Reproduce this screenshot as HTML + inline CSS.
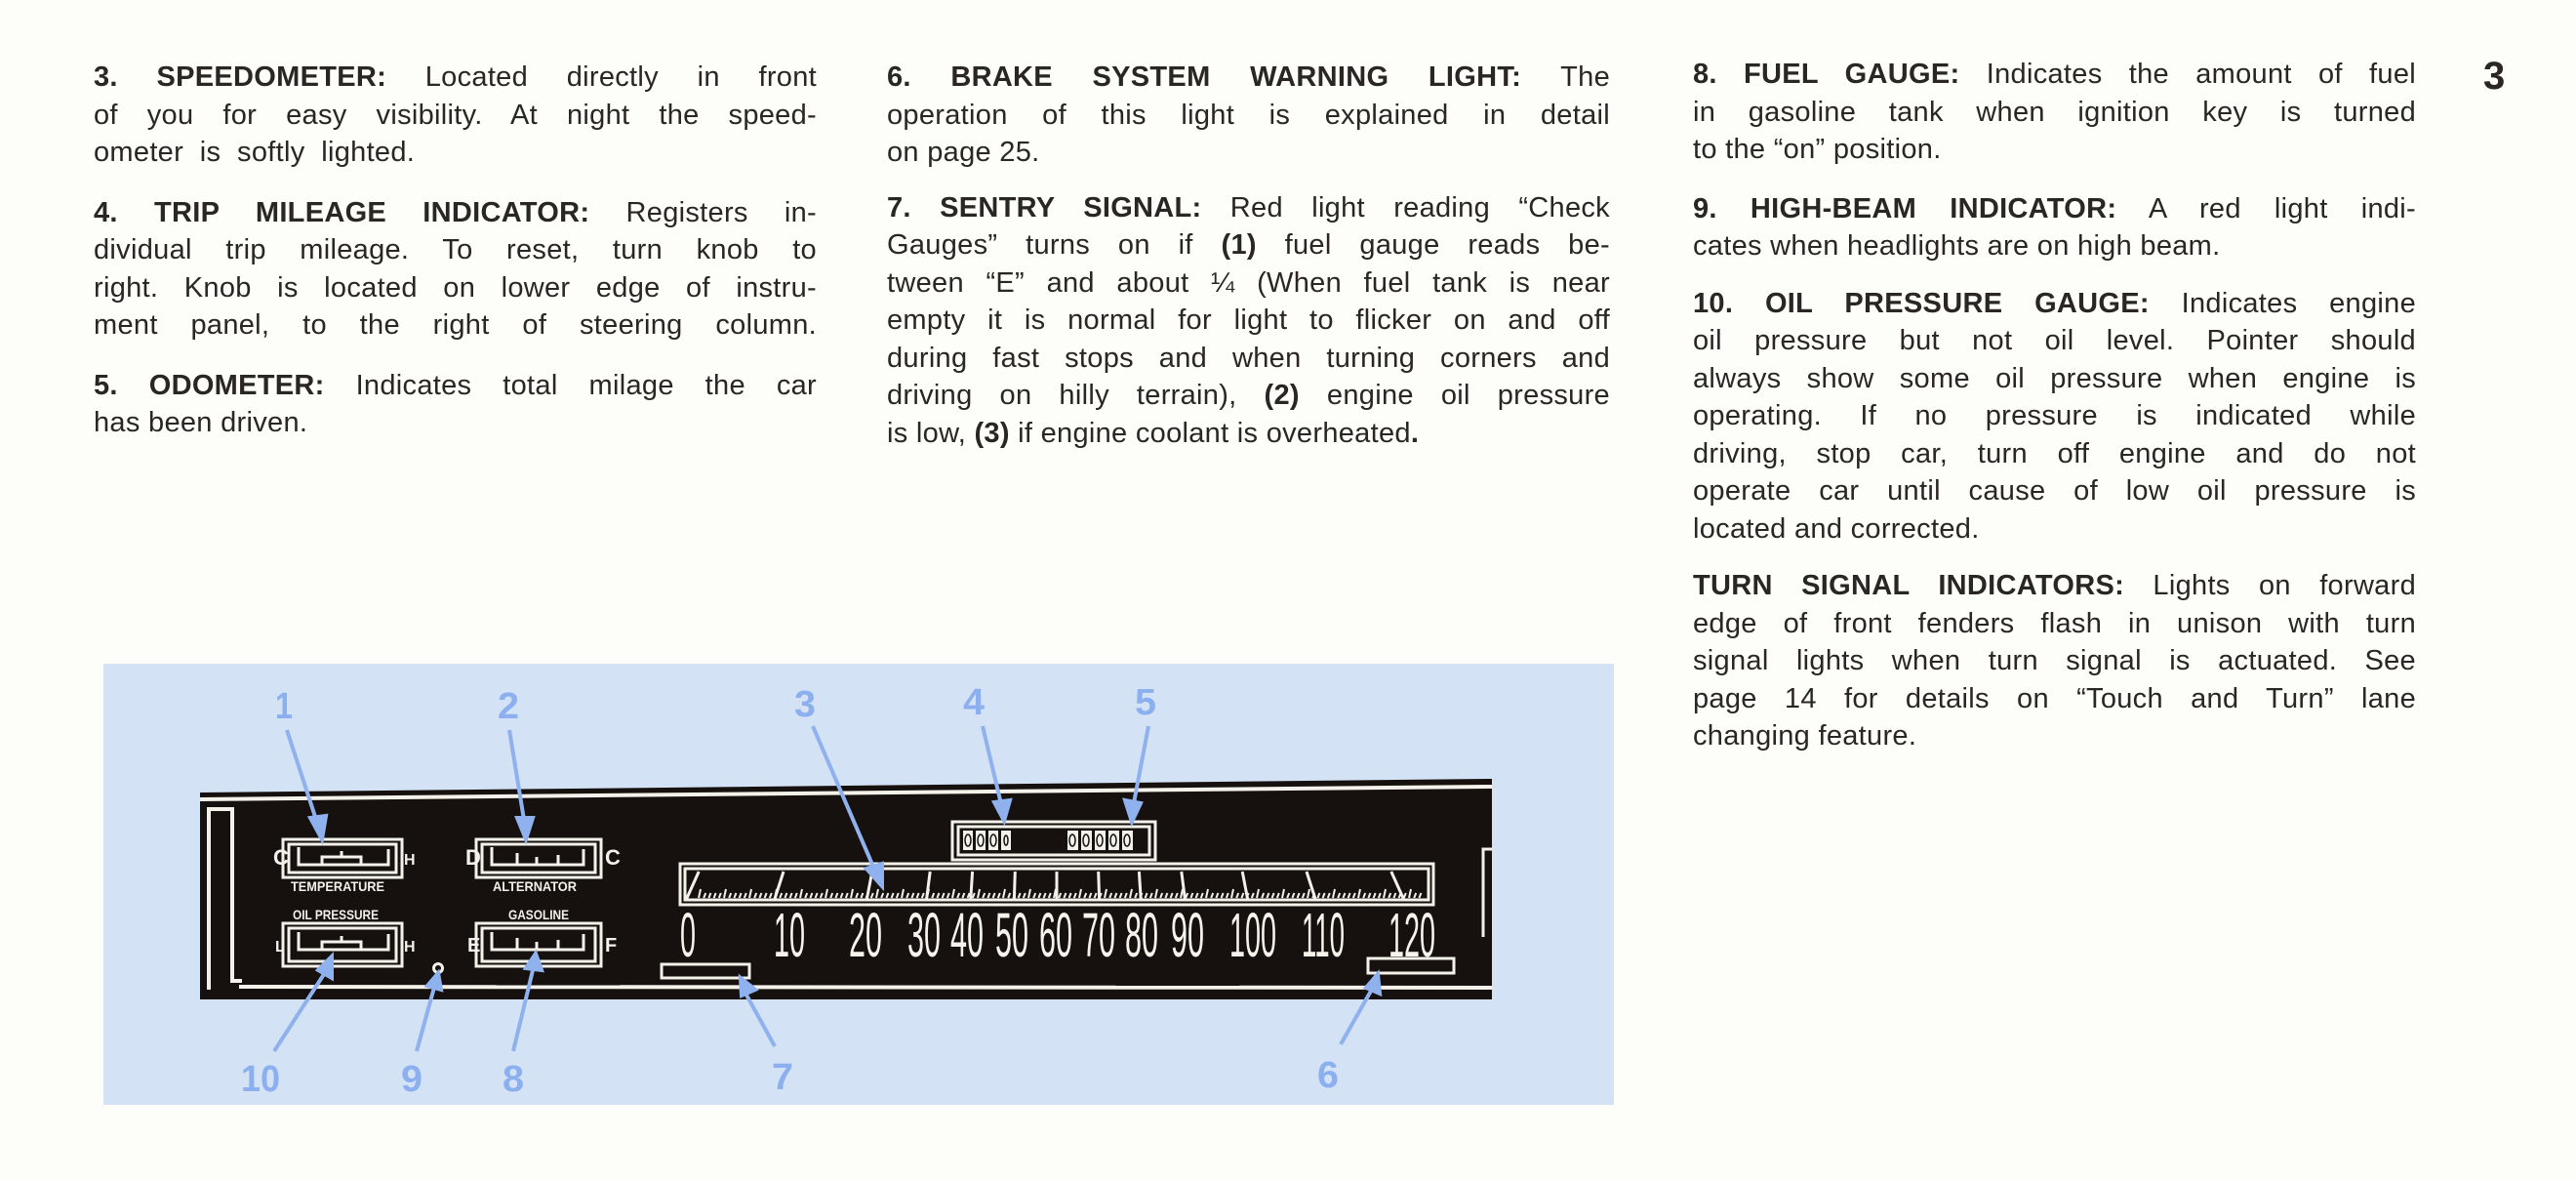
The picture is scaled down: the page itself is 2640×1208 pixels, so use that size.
<!DOCTYPE html>
<html><head><meta charset="utf-8">
<style>
html,body{margin:0;padding:0;background:#fdfdf9;}
body{width:2640px;height:1208px;position:relative;overflow:hidden;font-family:"Liberation Sans",sans-serif;color:#2a2622;}
.col{position:absolute;font-size:29px;line-height:38.5px;letter-spacing:0.3px;}
.col div{text-align:justify;text-align-last:justify;white-space:nowrap;}
.col div.l{text-align-last:left;}
.gap{height:23px;}
b{font-weight:bold;}
</style></head><body>
<div class="col" style="left:96px;top:60px;width:741px;">
<div><b>3. SPEEDOMETER:</b> Located directly in front</div>
<div>of you for easy visibility. At night the speed-</div>
<div class="l">ometer&nbsp; is&nbsp; softly&nbsp; lighted.</div>
<div class="gap"></div>
<div><b>4. TRIP MILEAGE INDICATOR:</b> Registers in-</div>
<div>dividual trip mileage. To reset, turn knob to</div>
<div>right. Knob is located on lower edge of instru-</div>
<div>ment panel, to the right of steering column.</div>
<div class="gap"></div>
<div><b>5. ODOMETER:</b> Indicates total milage the car</div>
<div class="l">has been driven.</div>
</div>
<div class="col" style="left:909px;top:60px;width:741px;">
<div><b>6. BRAKE SYSTEM WARNING LIGHT:</b> The</div>
<div>operation of this light is explained in detail</div>
<div class="l">on page 25.</div>
<div class="gap" style="height:18px"></div>
<div><b>7. SENTRY SIGNAL:</b> Red light reading “Check</div>
<div>Gauges” turns on if <b>(1)</b> fuel gauge reads be-</div>
<div>tween “E” and about ¼ (When fuel tank is near</div>
<div>empty it is normal for light to flicker on and off</div>
<div>during fast stops and when turning corners and</div>
<div>driving on hilly terrain), <b>(2)</b> engine oil pressure</div>
<div class="l">is low, <b>(3)</b> if engine coolant is overheated<b>.</b></div>
</div>
<div class="col" style="left:1735px;top:57px;width:741px;">
<div><b>8. FUEL GAUGE:</b> Indicates the amount of fuel</div>
<div>in gasoline tank when ignition key is turned</div>
<div class="l">to the “on” position.</div>
<div class="gap" style="height:22px"></div>
<div><b>9. HIGH-BEAM INDICATOR:</b> A red light indi-</div>
<div class="l">cates when headlights are on high beam.</div>
<div class="gap" style="height:20px"></div>
<div><b>10. OIL PRESSURE GAUGE:</b> Indicates engine</div>
<div>oil pressure but not oil level. Pointer should</div>
<div>always show some oil pressure when engine is</div>
<div>operating. If no pressure is indicated while</div>
<div>driving, stop car, turn off engine and do not</div>
<div>operate car until cause of low oil pressure is</div>
<div class="l">located and corrected.</div>
<div class="gap" style="height:20px"></div>
<div><b>TURN SIGNAL INDICATORS:</b> Lights on forward</div>
<div>edge of front fenders flash in unison with turn</div>
<div>signal lights when turn signal is actuated. See</div>
<div>page 14 for details on “Touch and Turn” lane</div>
<div class="l">changing feature.</div>
</div>
<div style="position:absolute;left:2545px;top:56px;font-size:40px;font-weight:bold;">3</div>

<svg style="position:absolute;left:0;top:0" width="2640" height="1208" xmlns="http://www.w3.org/2000/svg" font-family="Liberation Sans, sans-serif">
<rect x="106" y="680" width="1548" height="452" fill="#d3e2f4"/>
<polygon points="205,812 1529,798 1529,1024 205,1024" fill="#16110f"/>
<polyline points="205,819 1529,806" stroke="#f4f1ea" stroke-width="4" fill="none"/>
<polyline points="245,1011 1529,1012" stroke="#f4f1ea" stroke-width="4" fill="none"/>
<polyline points="214,1014 214,829 238,829 238,1005 248,1005" stroke="#f4f1ea" stroke-width="4" fill="none"/>
<path d="M1529,870 L1520,870 L1520,960" stroke="#f4f1ea" stroke-width="3" fill="none"/>
<g stroke="#f4f1ea" fill="none" stroke-width="3">
<rect x="290" y="860" width="122" height="39"/><rect x="296" y="865" width="110" height="29"/>
<rect x="488" y="860" width="128" height="39"/><rect x="494" y="865" width="116" height="29"/>
<rect x="290" y="946" width="122" height="44"/><rect x="296" y="951" width="110" height="34"/>
<rect x="488" y="946" width="128" height="44"/><rect x="494" y="951" width="116" height="34"/>
<path d="M306,868 V886 H398 V870 M330,886 V878 H370 V886 M350,878 V872"/>
<path d="M504,868 V886 H598 V870 M530,886 V874 M572,886 V876 M550,886 V878"/>
<path d="M306,955 V973 H398 V957 M330,973 V965 H370 V973 M350,965 V959"/>
<path d="M504,955 V973 H598 V957 M530,973 V961 M572,973 V963 M550,973 V965"/>
<rect x="976" y="842" width="208" height="39"/><rect x="982" y="847" width="196" height="29"/>
<rect x="697" y="885" width="772" height="42"/><rect x="702" y="890" width="762" height="32"/>
<rect x="678" y="988" width="90" height="14"/>
<rect x="1402" y="982" width="88" height="15"/>
<circle cx="449" cy="992" r="4.5"/>
</g>
<g fill="#f4f1ea" font-weight="bold">
<text x="280" y="886" font-size="22">C</text><text x="414" y="886" font-size="16">H</text>
<text x="477" y="886" font-size="22">D</text><text x="620" y="886" font-size="22">C</text>
<text x="282" y="975" font-size="16">L</text><text x="414" y="975" font-size="16">H</text>
<text x="479" y="975" font-size="20">E</text><text x="620" y="975" font-size="20">F</text>
<text x="298" y="913" font-size="14" textLength="96" lengthAdjust="spacingAndGlyphs">TEMPERATURE</text>
<text x="505" y="913" font-size="14" textLength="86" lengthAdjust="spacingAndGlyphs">ALTERNATOR</text>
<text x="300" y="942" font-size="14" textLength="88" lengthAdjust="spacingAndGlyphs">OIL PRESSURE</text>
<text x="521" y="942" font-size="14" textLength="62" lengthAdjust="spacingAndGlyphs">GASOLINE</text>
</g>
<g fill="#f4f1ea">
<rect x="987" y="851" width="10" height="20"/><rect x="1000" y="851" width="10" height="20"/><rect x="1013" y="851" width="10" height="20"/><rect x="1026" y="851" width="10" height="20"/>
<rect x="1094" y="851" width="11" height="20"/><rect x="1108" y="851" width="11" height="20"/><rect x="1122" y="851" width="11" height="20"/><rect x="1136" y="851" width="11" height="20"/><rect x="1150" y="851" width="11" height="20"/>
</g>
<g fill="none" stroke="#16110f" stroke-width="1.5">
<ellipse cx="992" cy="861" rx="3" ry="6"/><ellipse cx="1005" cy="861" rx="3" ry="6"/><ellipse cx="1018" cy="861" rx="3" ry="6"/><ellipse cx="1031" cy="861" rx="2" ry="5"/>
<ellipse cx="1099" cy="861" rx="3" ry="6"/><ellipse cx="1113" cy="861" rx="3" ry="6"/><ellipse cx="1127" cy="861" rx="3" ry="6"/><ellipse cx="1141" cy="861" rx="3" ry="6"/><ellipse cx="1155" cy="861" rx="3" ry="6"/>
</g>
<g id="ticks" stroke="#f4f1ea" stroke-width="2"></g>
<g fill="#f6f3ec" font-size="64">
<text x="697" y="980" textLength="16" lengthAdjust="spacingAndGlyphs">0</text>
<text x="793" y="980" textLength="32" lengthAdjust="spacingAndGlyphs">10</text>
<text x="870" y="980" textLength="34" lengthAdjust="spacingAndGlyphs">20</text>
<text x="930" y="980" textLength="34" lengthAdjust="spacingAndGlyphs">30</text>
<text x="974" y="980" textLength="34" lengthAdjust="spacingAndGlyphs">40</text>
<text x="1020" y="980" textLength="34" lengthAdjust="spacingAndGlyphs">50</text>
<text x="1065" y="980" textLength="34" lengthAdjust="spacingAndGlyphs">60</text>
<text x="1109" y="980" textLength="34" lengthAdjust="spacingAndGlyphs">70</text>
<text x="1153" y="980" textLength="34" lengthAdjust="spacingAndGlyphs">80</text>
<text x="1200" y="980" textLength="34" lengthAdjust="spacingAndGlyphs">90</text>
<text x="1260" y="980" textLength="48" lengthAdjust="spacingAndGlyphs">100</text>
<text x="1334" y="980" textLength="44" lengthAdjust="spacingAndGlyphs">110</text>
<text x="1423" y="980" textLength="48" lengthAdjust="spacingAndGlyphs">120</text>
</g>
<g stroke="#8fb1ee" stroke-width="4" fill="#8fb1ee">
<line x1="294" y1="748" x2="326" y2="846"/><polygon points="330,860 318,838 334,836"/>
<line x1="522" y1="748" x2="538" y2="846"/><polygon points="539,860 530,838 546,838"/>
<line x1="833" y1="744" x2="898" y2="895"/><polygon points="904,908 888,890 904,885"/>
<line x1="1007" y1="744" x2="1027" y2="828"/><polygon points="1029,841 1019,822 1035,820"/>
<line x1="1177" y1="744" x2="1161" y2="828"/><polygon points="1160,842 1153,820 1169,823"/>
<line x1="281" y1="1077" x2="336" y2="992"/><polygon points="340,980 340,1002 326,994"/>
<line x1="427" y1="1077" x2="446" y2="1008"/><polygon points="449,997 452,1014 438,1010"/>
<line x1="526" y1="1077" x2="547" y2="990"/><polygon points="549,977 555,994 539,992"/>
<line x1="794" y1="1072" x2="762" y2="1014"/><polygon points="759,1002 774,1014 760,1020"/>
<line x1="1374" y1="1070" x2="1408" y2="1010"/><polygon points="1412,998 1414,1018 1400,1012"/>
</g>
<g fill="#8cb0ef" font-size="38" font-weight="bold" text-anchor="middle">
<text x="291" y="736" textLength="18" lengthAdjust="spacingAndGlyphs">1</text>
<text x="521" y="736" textLength="22" lengthAdjust="spacingAndGlyphs">2</text>
<text x="825" y="734" textLength="22" lengthAdjust="spacingAndGlyphs">3</text>
<text x="998" y="732" textLength="22" lengthAdjust="spacingAndGlyphs">4</text>
<text x="1174" y="732" textLength="22" lengthAdjust="spacingAndGlyphs">5</text>
<text x="267" y="1118" textLength="40" lengthAdjust="spacingAndGlyphs">10</text>
<text x="422" y="1118" textLength="22" lengthAdjust="spacingAndGlyphs">9</text>
<text x="526" y="1118" textLength="22" lengthAdjust="spacingAndGlyphs">8</text>
<text x="802" y="1116" textLength="22" lengthAdjust="spacingAndGlyphs">7</text>
<text x="1361" y="1114" textLength="22" lengthAdjust="spacingAndGlyphs">6</text>
</g>
</svg>
<script>
var g=document.getElementById('ticks'),s='';
for(var x=716;x<1456;x+=5.2){var h=(Math.round((x-716)/5.2)%5==0)?9:5;s+='<line x1="'+x+'" y1="920" x2="'+(x+2)+'" y2="'+(920-h)+'"/>';}
var big=[[712,-14],[800,-10],[892,-6],[952,-4],[996,-2],[1040,-1],[1083,0],[1126,1],[1168,2],[1212,4],[1275,6],[1342,10],[1430,14]];
big.forEach(function(b){s+='<line x1="'+(b[0]-b[1]*0.3)+'" y1="893" x2="'+(b[0]+b[1]*0.6)+'" y2="921" stroke-width="3"/>';});
g.innerHTML=s;
</script>
</body></html>
